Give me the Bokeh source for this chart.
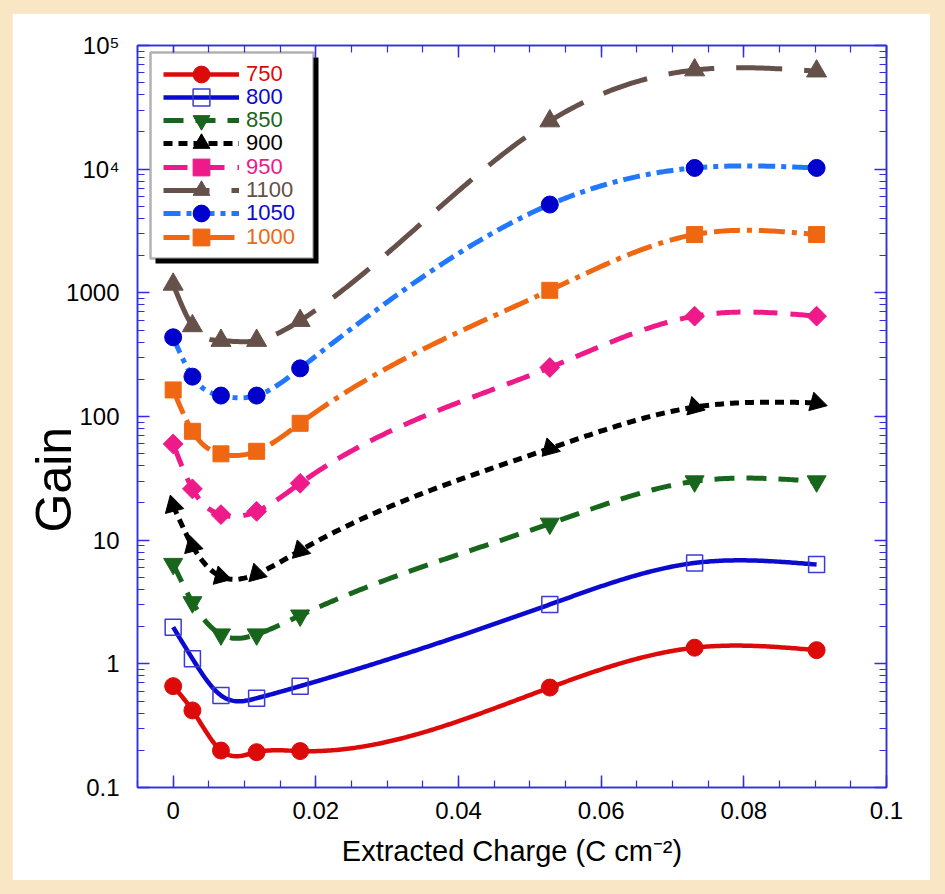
import numpy as np
from math import pi
from bokeh.plotting import figure
from bokeh.models import (Range1d, FixedTicker, LinearAxis, LogAxis, Legend, LegendItem,
                          BoxAnnotation, Title, CustomJSTickFormatter)
from bokeh.layouts import column
from bokeh.embed import file_html
from bokeh.resources import INLINE

# ---------------- data ----------------
charge = [0.0, 0.0027, 0.0067, 0.0117, 0.0178, 0.0528, 0.0731, 0.0902]

gain_750 = [0.66, 0.42, 0.199, 0.193, 0.197, 0.643, 1.35, 1.29]
gain_800 = [1.98, 1.10, 0.555, 0.527, 0.66, 3.02, 6.54, 6.35]
gain_850 = [6.43, 3.15, 1.73, 1.73, 2.46, 13.6, 29.9, 29.9]
gain_900 = [19.0, 9.0, 5.08, 5.34, 8.24, 55.1, 119, 129]
gain_950 = [60, 26, 16.1, 17.1, 28.8, 249, 648, 648]
gain_1100 = [1170, 540, 411, 411, 596, 24500, 63300, 62000]
gain_1050 = [437, 210, 147.6, 147.6, 245, 5175, 10230, 10230]
gain_1000 = [164, 75.9, 49.9, 52.3, 88.1, 1048, 2960, 2960]

series_labels = ["750", "800", "850", "900", "950", "1100", "1050", "1000"]

x_tick_vals = [0, 0.02, 0.04, 0.06, 0.08, 0.1]
x_tick_labels = ["0", "0.02", "0.04", "0.06", "0.08", "0.1"]
y_tick_vals = [0.1, 1, 10, 100, 1000, 10000, 100000]
y_tick_labels = ["0.1", "1", "10", "100", "1000", "10\u2074", "10\u2075"]

# ---------------- styles ----------------
FONT = "Liberation Sans"
BLUE_AX = "#2f2fe0"
styles = {
    "750":  dict(line="#dd0a0a", dash="solid", marker="circle", size=17, fill="#dd0a0a", mline=None, angle=0),
    "800":  dict(line="#0a0ad0", dash="solid", marker="square", size=16, fill=None, mline="#3a3ad8", angle=0),
    "850":  dict(line="#18661c", dash="20 12", marker="inverted_triangle", size=19, fill="#18661c", mline=None, angle=0),
    "900":  dict(line="#000000", dash="9 6", marker="triangle", size=19, fill="#000000", mline=None, angle=3 * pi / 4),
    "950":  dict(line="#ee1a8a", dash="24 13", marker="square", size=14, fill="#ee1a8a", mline=None, angle=pi / 4),
    "1100": dict(line="#65504a", dash="46 22", marker="triangle", size=20, fill="#65504a", mline=None, angle=0),
    "1050": dict(line="#2277ff", dash="17 6 5 6", marker="circle", size=17, fill="#0000cc", mline=None, angle=0),
    "1000": dict(line="#f06712", dash="26 7 5 7", marker="square", size=16, fill="#f06712", mline=None, angle=0),
}
label_colors = {"750": "#dd0a0a", "800": "#0a0ad0", "850": "#18661c", "900": "#000000",
                "950": "#ee1a8a", "1100": "#65504a", "1050": "#0a0ad0", "1000": "#f06712"}
series_values = {"750": gain_750, "800": gain_800, "850": gain_850, "900": gain_900,
                 "950": gain_950, "1100": gain_1100, "1050": gain_1050, "1000": gain_1000}


def smooth_curve(xs, ys, n=300):
    """Natural cubic spline through the points in (x, log10 y), used only to draw the line."""
    xs = np.asarray(xs, float)
    ly = np.log10(np.asarray(ys, float))
    k = len(xs)
    h = np.diff(xs)
    A = np.zeros((k, k))
    b = np.zeros(k)
    A[0, 0] = A[-1, -1] = 1.0
    for i in range(1, k - 1):
        A[i, i - 1] = h[i - 1]
        A[i, i] = 2 * (h[i - 1] + h[i])
        A[i, i + 1] = h[i]
        b[i] = 3 * ((ly[i + 1] - ly[i]) / h[i] - (ly[i] - ly[i - 1]) / h[i - 1])
    c = np.linalg.solve(A, b)
    bc = (ly[1:] - ly[:-1]) / h - h * (2 * c[:-1] + c[1:]) / 3
    dc = (c[1:] - c[:-1]) / (3 * h)
    xx = np.linspace(xs[0], xs[-1], n)
    idx = np.clip(np.searchsorted(xs, xx, side="right") - 1, 0, k - 2)
    dx = xx - xs[idx]
    yy = ly[idx] + bc[idx] * dx + c[idx] * dx ** 2 + dc[idx] * dx ** 3
    return xx, 10 ** yy


# ---------------- figure ----------------
W, H = 918, 867
X0, X1 = -0.005, 0.1
p = figure(width=W, height=H, y_axis_type="log",
           x_range=Range1d(X0, X1), y_range=Range1d(0.1, 1e5),
           output_backend="svg", toolbar_location=None,
           min_border_left=125, min_border_right=44, min_border_top=32, min_border_bottom=93,
           background_fill_color="white", border_fill_color="white")
p.margin = (13, 15, 14, 12)
p.xgrid.visible = False
p.ygrid.visible = False
p.outline_line_color = BLUE_AX
p.outline_line_width = 1.5

x_minor = [v / 1000 for v in range(-5, 101, 5)]
y_minor = [m * 10.0 ** e for e in range(-1, 5) for m in range(2, 10)]


def style_axis(ax, labels=True):
    ax.axis_line_color = BLUE_AX
    ax.axis_line_width = 1.5
    ax.major_tick_line_color = BLUE_AX
    ax.major_tick_line_width = 1.5
    ax.minor_tick_line_color = BLUE_AX
    ax.minor_tick_line_width = 1.2
    ax.major_tick_in = 12
    ax.major_tick_out = 0
    ax.minor_tick_in = 7
    ax.minor_tick_out = 0
    ax.major_label_text_font = FONT
    ax.major_label_text_font_size = "24px"
    ax.major_label_text_color = "black"
    if not labels:
        ax.formatter = CustomJSTickFormatter(code="return ''")


xaxis = p.xaxis[0]
xaxis.ticker = FixedTicker(ticks=x_tick_vals, minor_ticks=x_minor)
xaxis.major_label_overrides = dict(zip(x_tick_vals, x_tick_labels))
style_axis(xaxis)
xaxis.major_label_standoff = 14
xaxis.axis_label = "Extracted Charge (C cm\u207b\u00b2)"
xaxis.axis_label_text_font = FONT
xaxis.axis_label_text_font_size = "29px"
xaxis.axis_label_text_font_style = "normal"
xaxis.axis_label_text_color = "black"
xaxis.axis_label_standoff = 13

yaxis = p.yaxis[0]
yaxis.ticker = FixedTicker(ticks=y_tick_vals, minor_ticks=y_minor)
yaxis.major_label_overrides = dict(zip(y_tick_vals, y_tick_labels))
style_axis(yaxis)
yaxis.major_label_standoff = 18

top_axis = LinearAxis(ticker=FixedTicker(ticks=x_tick_vals, minor_ticks=x_minor))
style_axis(top_axis, labels=False)
p.add_layout(top_axis, "above")
right_axis = LogAxis(ticker=FixedTicker(ticks=y_tick_vals, minor_ticks=y_minor))
style_axis(right_axis, labels=False)
p.add_layout(right_axis, "right")

# "Gain" title on the left, placed below centre and close to the tick labels as in the reference
gain_title = Title(text="Gain", align="left", offset=255, vertical_align="bottom", standoff=-36,
                   text_font=FONT, text_font_size="50px", text_font_style="normal", text_color="black")
p.add_layout(gain_title, "left")

# ---------------- series ----------------
renderers = {}
for name in series_labels:
    s = styles[name]
    cx, cy = smooth_curve(charge, series_values[name])
    lr = p.line(cx, cy, line_color=s["line"], line_width=4.5 if s["dash"] == "solid" else 5,
                line_dash=s["dash"], line_join="round")
    renderers[name] = [lr]
for name in series_labels:
    s = styles[name]
    if s["fill"] is None:
        sr = p.scatter(charge, series_values[name], marker=s["marker"], size=s["size"],
                       fill_color=None, line_color=s["mline"], line_width=1.5, angle=s["angle"])
    else:
        sr = p.scatter(charge, series_values[name], marker=s["marker"], size=s["size"],
                       fill_color=s["fill"], line_color=s["fill"], line_width=1, angle=s["angle"])
    renderers[name].append(sr)

# ---------------- legend ----------------
FH = 742  # frame height in px
shadow = BoxAnnotation(left=18, right=181, top=FH - 12, bottom=FH - 218,
                       left_units="screen", right_units="screen", top_units="screen", bottom_units="screen",
                       fill_color="black", fill_alpha=1, line_color=None)
box = BoxAnnotation(left=13, right=176, top=FH - 7, bottom=FH - 213,
                    left_units="screen", right_units="screen", top_units="screen", bottom_units="screen",
                    fill_color="white", fill_alpha=1, line_color="black", line_width=2.5)
p.add_layout(shadow)
p.add_layout(box)

GH = 42  # legend glyph box height (sets legend marker size)
for i, name in enumerate(series_labels):
    leg = Legend(items=[LegendItem(label=name, renderers=renderers[name])],
                 location=(26, FH - (28.5 + 23.3 * i) - GH / 2),
                 padding=0, margin=0, border_line_color=None, background_fill_alpha=0,
                 glyph_width=76, glyph_height=GH, label_height=20, label_standoff=7,
                 label_text_font=FONT, label_text_font_size="22px",
                 label_text_color=label_colors[name])
    p.add_layout(leg)

layout = column(p, styles={"background-color": "#f8e6c4"})

open("out.html", "w").write(file_html(layout, INLINE))
